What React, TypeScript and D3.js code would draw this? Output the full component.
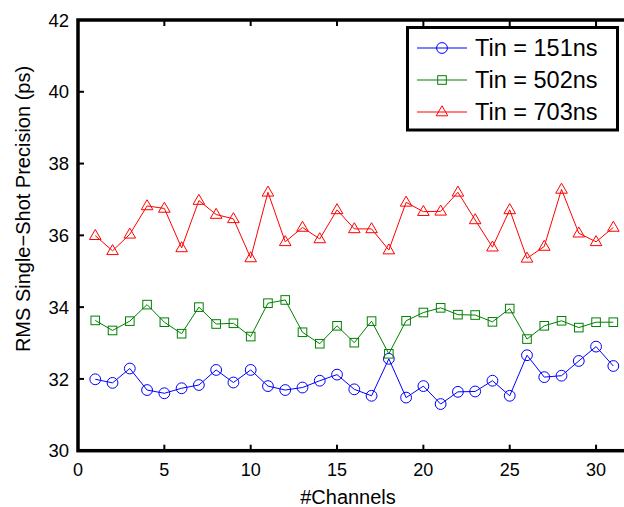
import React from "react";
import * as d3 from "d3";

const channels = d3.range(1, 32);
const tin151 = [31.99, 31.89, 32.29, 31.69, 31.6, 31.74, 31.83, 32.25, 31.9, 32.25, 31.8, 31.69, 31.76, 31.95, 32.12, 31.71, 31.53, 32.56, 31.48, 31.8, 31.3, 31.64, 31.65, 31.95, 31.53, 32.66, 32.05, 32.09, 32.5, 32.9, 32.36];
const tin502 = [33.63, 33.35, 33.61, 34.07, 33.58, 33.26, 34.0, 33.53, 33.55, 33.18, 34.11, 34.2, 33.3, 32.98, 33.48, 33.01, 33.61, 32.7, 33.62, 33.85, 33.98, 33.79, 33.78, 33.59, 33.96, 33.11, 33.48, 33.62, 33.43, 33.58, 33.58];
const tin703 = [35.99, 35.57, 36.03, 36.82, 36.75, 35.65, 36.97, 36.58, 36.46, 35.37, 37.2, 35.82, 36.22, 35.9, 36.71, 36.18, 36.18, 35.59, 36.92, 36.66, 36.67, 37.2, 36.43, 35.67, 36.71, 35.36, 35.69, 37.28, 36.06, 35.82, 36.22];
const xTicks = [0, 5, 10, 15, 20, 25, 30];
const yTicks = [30, 32, 34, 36, 38, 40, 42];
const seriesNames = ["Tin = 151ns", "Tin = 502ns", "Tin = 703ns"];

const W = 624, H = 507;
const x = d3.scaleLinear().domain([0, 32]).range([78, 630.6]);
const y = d3.scaleLinear().domain([30, 42]).range([450.7, 20]);
const font = "Helvetica, Arial, 'Liberation Sans', sans-serif";

type Kind = "circle" | "square" | "triangle";
const series: { name: string; values: number[]; color: string; kind: Kind }[] = [
  { name: seriesNames[0], values: tin151, color: "#0000ff", kind: "circle" },
  { name: seriesNames[1], values: tin502, color: "#008000", kind: "square" },
  { name: seriesNames[2], values: tin703, color: "#ff0000", kind: "triangle" },
];

function Marker({ kind, cx, cy, color }: { kind: Kind; cx: number; cy: number; color: string }) {
  if (kind === "circle") return <circle cx={cx} cy={cy} r={5.4} fill="none" stroke={color} strokeWidth={1} />;
  if (kind === "square") return <rect x={cx - 4.3} y={cy - 4.3} width={8.6} height={8.6} fill="none" stroke={color} strokeWidth={1} />;
  const h = 10, w = 11.6;
  const pts = `${cx},${cy - h * 0.62} ${cx - w / 2},${cy + h * 0.38} ${cx + w / 2},${cy + h * 0.38}`;
  return <polygon points={pts} fill="none" stroke={color} strokeWidth={1} />;
}

export default function App() {
  const line = d3.line<number>().x((_, i) => x(channels[i])).y((d) => y(d));
  const legendRows = [48, 80, 112];
  return (
    <svg width={W} height={H} style={{ position: "absolute", left: 0, top: 0, background: "#fff" }} fontFamily={font}>
      <rect width={W} height={H} fill="#fff" />
      {series.map((s) => (
        <g key={s.name}>
          <path d={line(s.values) || ""} fill="none" stroke={s.color} strokeWidth={1} />
          {s.values.map((v, i) => (
            <Marker key={i} kind={s.kind} cx={x(channels[i])} cy={y(v)} color={s.color} />
          ))}
        </g>
      ))}
      {/* axes box */}
      <rect x={x(0)} y={y(42)} width={x(32) - x(0)} height={y(30) - y(42)} fill="none" stroke="#000" strokeWidth={3.5} />
      {xTicks.map((t) => (
        <g key={"x" + t}>
          <line x1={x(t)} x2={x(t)} y1={y(30)} y2={y(30) - 6} stroke="#000" strokeWidth={2} />
          <line x1={x(t)} x2={x(t)} y1={y(42)} y2={y(42) + 6} stroke="#000" strokeWidth={2} />
          <text x={x(t)} y={476} textAnchor="middle" fontSize={18} fill="#000">{t}</text>
        </g>
      ))}
      {yTicks.map((t) => (
        <g key={"y" + t}>
          <line x1={x(0)} x2={x(0) + 6} y1={y(t)} y2={y(t)} stroke="#000" strokeWidth={2} />
          <text x={69} y={y(t)} dy="0.36em" textAnchor="end" fontSize={18.5} fill="#000">{t}</text>
        </g>
      ))}
      <text x={348} y={504} textAnchor="middle" fontSize={20} fill="#000">#Channels</text>
      <text transform={`translate(30,209) rotate(-90)`} textAnchor="middle" fontSize={20} fill="#000">RMS Single−Shot Precision (ps)</text>
      {/* legend */}
      <rect x={407.5} y={27.5} width={210} height={102.5} fill="#fff" stroke="#000" strokeWidth={3} />
      {series.map((s, i) => (
        <g key={"lg" + i}>
          <line x1={417} x2={467} y1={legendRows[i]} y2={legendRows[i]} stroke={s.color} strokeWidth={1} />
          <Marker kind={s.kind} cx={442} cy={legendRows[i]} color={s.color} />
          <text x={475} y={legendRows[i]} dy="0.36em" fontSize={23.5} fill="#000">{s.name}</text>
        </g>
      ))}
    </svg>
  );
}
